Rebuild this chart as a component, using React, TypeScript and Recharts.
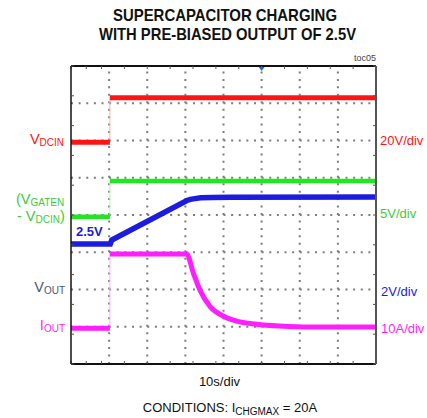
import React from "react";
import { LineChart, Line, XAxis, YAxis, ReferenceLine, ReferenceDot } from "recharts";

// time in seconds (10 s/div, 8 divisions), value in screen divisions from bottom (0..8)
const GRID_X = [10, 20, 30, 40, 50, 60, 70];
const GRID_Y = [1, 2, 3, 4, 5, 6, 7];
const MINOR_X = Array.from({ length: 41 }, (_, i) => i * 2);
const MINOR_Y = Array.from({ length: 41 }, (_, i) => i * 0.2);

const VDCIN_BEFORE = [{ t: 0, v: 5.95 }, { t: 10.2, v: 5.95 }];
const VDCIN_EDGE = [{ t: 10.2, v: 5.95 }, { t: 10.2, v: 7.15 }];
const VDCIN_AFTER = [{ t: 10.2, v: 7.15 }, { t: 80, v: 7.15 }];

const VGATE_BEFORE = [{ t: 0, v: 3.95 }, { t: 10.2, v: 3.95 }];
const VGATE_EDGE = [{ t: 10.2, v: 3.95 }, { t: 10.2, v: 4.91 }];
const VGATE_AFTER = [{ t: 10.2, v: 4.91 }, { t: 80, v: 4.91 }];

const VOUT = [
  { t: 0, v: 3.22 }, { t: 10.3, v: 3.22 }, { t: 10.7, v: 3.33 }, { t: 30.4, v: 4.39 },
  { t: 31.3, v: 4.42 }, { t: 32.5, v: 4.44 }, { t: 34, v: 4.46 }, { t: 37, v: 4.47 },
  { t: 42, v: 4.475 }, { t: 80, v: 4.48 },
];

const IOUT_BEFORE = [{ t: 0, v: 0.96 }, { t: 10.2, v: 0.96 }];
const IOUT_EDGE = [{ t: 10.2, v: 0.96 }, { t: 10.2, v: 2.95 }];
const IOUT_AFTER = [
  { t: 10.2, v: 2.95 }, { t: 30.35, v: 2.95 }, { t: 32.1, v: 2.44 }, { t: 33.8, v: 1.99 },
  { t: 36.5, v: 1.54 }, { t: 39.9, v: 1.29 }, { t: 43.5, v: 1.15 }, { t: 48.7, v: 1.07 },
  { t: 54.8, v: 1.02 }, { t: 62.7, v: 0.99 }, { t: 80, v: 0.99 },
];

const TRIGGER = { t: 50, v: 8 };

const FONT = "'Liberation Sans', Arial, Helvetica, sans-serif";
const RED = "#ff1414";
const GREEN = "#1ee81e";
const BLUE = "#1c1ce0";
const MAGENTA = "#ff1eff";
const LGREEN = "#3ccc3c";

const noTick = () => <g />;

const Triangle = (props: any) => {
  const { cx, cy } = props;
  return <polygon points={`${cx - 3},${cy + 1} ${cx + 3},${cy + 1} ${cx},${cy + 5}`} fill="#1a6ae8" />;
};

export default function App() {
  return (
    <div style={{ position: "absolute", left: 0, top: 0, width: 427, height: 418, background: "#fff" }}>
      <LineChart width={427} height={418} margin={{ top: 66, right: 51, bottom: 54, left: 71 }}>
        <XAxis xAxisId="b" dataKey="t" type="number" domain={[0, 80]} allowDataOverflow ticks={MINOR_X}
          orientation="bottom" mirror tick={noTick} tickSize={3} tickLine={{ stroke: "#555" }}
          axisLine={{ stroke: "#111", strokeWidth: 2 }} />
        <XAxis xAxisId="t" dataKey="t" type="number" domain={[0, 80]} allowDataOverflow ticks={MINOR_X}
          orientation="top" mirror tick={noTick} tickSize={3} tickLine={{ stroke: "#555" }}
          axisLine={{ stroke: "#111", strokeWidth: 2 }} />
        <YAxis yAxisId="l" type="number" domain={[0, 8]} allowDataOverflow ticks={MINOR_Y}
          orientation="left" mirror tick={noTick} tickSize={3} tickLine={{ stroke: "#6a4a2a" }}
          axisLine={{ stroke: "#111", strokeWidth: 1.5 }} />
        <YAxis yAxisId="r" type="number" domain={[0, 8]} allowDataOverflow ticks={MINOR_Y}
          orientation="right" mirror tick={noTick} tickSize={3} tickLine={{ stroke: "#555" }}
          axisLine={{ stroke: "#555", strokeWidth: 2 }} />
        {GRID_X.map((x) => (
          <ReferenceLine key={"gx" + x} xAxisId="b" yAxisId="l" x={x} stroke="#7d7d7d" strokeWidth={2} strokeDasharray="2 5.45" />
        ))}
        {GRID_Y.map((y) => (
          <ReferenceLine key={"gy" + y} xAxisId="b" yAxisId="l" y={y} stroke="#7d7d7d" strokeWidth={2} strokeDasharray="2 5.625" />
        ))}
        <Line xAxisId="b" yAxisId="l" data={VDCIN_EDGE} dataKey="v" stroke="#ffb4b4" strokeWidth={1} dot={false} activeDot={false} isAnimationActive={false} type="linear" />
        <Line xAxisId="b" yAxisId="l" data={VGATE_EDGE} dataKey="v" stroke="#b8f4b8" strokeWidth={1} dot={false} activeDot={false} isAnimationActive={false} type="linear" />
        <Line xAxisId="b" yAxisId="l" data={IOUT_EDGE} dataKey="v" stroke="#ffb0ff" strokeWidth={1} dot={false} activeDot={false} isAnimationActive={false} type="linear" />
        <Line xAxisId="b" yAxisId="l" data={VDCIN_BEFORE} dataKey="v" stroke={RED} strokeWidth={5} dot={false} activeDot={false} isAnimationActive={false} type="linear" />
        <Line xAxisId="b" yAxisId="l" data={VDCIN_AFTER} dataKey="v" stroke={RED} strokeWidth={5} dot={false} activeDot={false} isAnimationActive={false} type="linear" />
        <Line xAxisId="b" yAxisId="l" data={VGATE_BEFORE} dataKey="v" stroke={GREEN} strokeWidth={4.5} dot={false} activeDot={false} isAnimationActive={false} type="linear" />
        <Line xAxisId="b" yAxisId="l" data={VGATE_AFTER} dataKey="v" stroke={GREEN} strokeWidth={4.5} dot={false} activeDot={false} isAnimationActive={false} type="linear" />
        <Line xAxisId="b" yAxisId="l" data={VOUT} dataKey="v" stroke={BLUE} strokeWidth={5.5} dot={false} activeDot={false} isAnimationActive={false} type="linear" />
        <Line xAxisId="b" yAxisId="l" data={IOUT_BEFORE} dataKey="v" stroke={MAGENTA} strokeWidth={5} dot={false} activeDot={false} isAnimationActive={false} type="linear" />
        <Line xAxisId="b" yAxisId="l" data={IOUT_AFTER} dataKey="v" stroke={MAGENTA} strokeWidth={5} dot={false} activeDot={false} isAnimationActive={false} type="monotoneX" />
        <ReferenceDot xAxisId="b" yAxisId="l" x={TRIGGER.t} y={TRIGGER.v} r={3} shape={Triangle} />
      </LineChart>
      <svg width={427} height={418} style={{ position: "absolute", left: 0, top: 0, pointerEvents: "none" }} fontFamily={FONT}>
        <text x={225} y={21} textAnchor="middle" fontWeight="bold" fontSize={17} fill="#111" textLength={224} lengthAdjust="spacingAndGlyphs">SUPERCAPACITOR CHARGING</text>
        <text x={227.5} y={40} textAnchor="middle" fontWeight="bold" fontSize={17} fill="#111" textLength={257} lengthAdjust="spacingAndGlyphs">WITH PRE-BIASED OUTPUT OF 2.5V</text>
        <text x={376} y={61} textAnchor="end" fontSize={9} fill="#444">toc05</text>

        <text x={64} y={143.5} textAnchor="end" fontSize={14.5} fill={RED}>V<tspan fontSize={10} dy={2.5}>DCIN</tspan></text>
        <text x={16} y={204} fontSize={14.5} fill={LGREEN}>(V<tspan fontSize={10} dy={2}>GATEN</tspan></text>
        <text x={17} y={221} fontSize={14.5} fill={LGREEN}>- V<tspan fontSize={10} dy={2}>DCIN</tspan><tspan dy={-2}>)</tspan></text>
        <text x={76} y={236} fontSize={13} fontWeight="bold" fill={BLUE}>2.5V</text>
        <text x={65} y={292} textAnchor="end" fontSize={14.5} fill="#4d5470">V<tspan fontSize={10} dy={2}>OUT</tspan></text>
        <text x={65} y={330} textAnchor="end" fontSize={14.5} fill={MAGENTA}>I<tspan fontSize={10} dy={2}>OUT</tspan></text>

        <text x={380} y={145} fontSize={13} fill={RED}>20V/div</text>
        <text x={380} y={218} fontSize={13} fill={LGREEN}>5V/div</text>
        <text x={381} y={295.5} fontSize={13} fill={BLUE}>2V/div</text>
        <text x={381} y={333} fontSize={13} fill={MAGENTA}>10A/div</text>

        <text x={219.5} y={386} textAnchor="middle" fontSize={13} fill="#111">10s/div</text>
        <text x={230} y={411.5} textAnchor="middle" fontSize={13} fill="#111">CONDITIONS: I<tspan fontSize={10} dy={3}>CHGMAX</tspan><tspan dy={-3}> = 20A</tspan></text>
      </svg>
    </div>
  );
}
